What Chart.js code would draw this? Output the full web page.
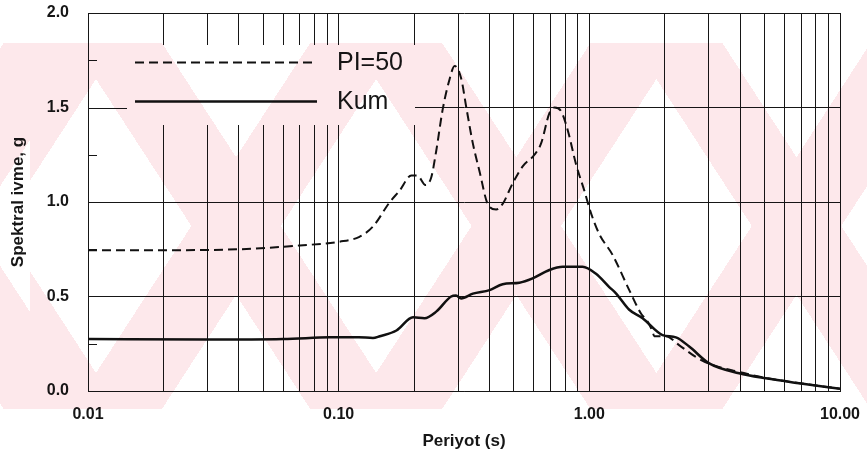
<!DOCTYPE html>
<html>
<head>
<meta charset="utf-8">
<title>Spektral ivme</title>
<script src="https://cdn.jsdelivr.net/npm/chart.js@4.4.1/dist/chart.umd.min.js"></script>
<style>
  body { margin: 0; background: #fff; }
  #wrap { position: relative; width: 867px; height: 458px; }
  #watermark {
    position: absolute; left: 0; top: 43px; width: 867px; height: 366px;
    pointer-events: none; mix-blend-mode: multiply;
    background-image:
      repeating-linear-gradient(57deg, #fde8eb 0 75px, transparent 75px 235px),
      repeating-linear-gradient(123deg, #fde8eb 0 75px, transparent 75px 235px);
    background-position: 30px 0, 30px 0;
  }
</style>
</head>
<body>
<div id="wrap"><canvas id="chart"></canvas><div id="watermark"></div></div>
<script>
// periods (s) and spectral acceleration (g)
const pi50Period = [0.01, 0.02, 0.04, 0.07, 0.101, 0.121, 0.137, 0.160, 0.175, 0.195, 0.206, 0.222, 0.234, 0.245, 0.260, 0.277, 0.290, 0.308, 0.323, 0.343, 0.365, 0.393, 0.425, 0.451, 0.495, 0.543, 0.604, 0.642, 0.693, 0.726, 0.772, 0.820, 0.885, 0.955, 1.016, 1.096, 1.238, 1.443, 1.607, 1.708, 1.788, 1.815, 2.02, 2.28, 2.66, 3.0, 3.7, 4.0, 5.0, 7.0, 10.0];
const pi50Accel = [0.745, 0.745, 0.75, 0.77, 0.79, 0.816, 0.87, 1.00, 1.06, 1.14, 1.14, 1.09, 1.13, 1.27, 1.49, 1.65, 1.72, 1.655, 1.50, 1.31, 1.16, 0.99, 0.96, 0.99, 1.10, 1.19, 1.25, 1.31, 1.47, 1.50, 1.48, 1.38, 1.20, 1.06, 0.94, 0.83, 0.72, 0.534, 0.41, 0.367, 0.314, 0.29, 0.29, 0.243, 0.18, 0.145, 0.11, 0.10, 0.07, 0.04, 0.012];

const kumPeriod = [0.01, 0.03, 0.06, 0.092, 0.12, 0.137, 0.146, 0.170, 0.198, 0.220, 0.245, 0.281, 0.294, 0.308, 0.343, 0.400, 0.451, 0.526, 0.594, 0.693, 0.783, 0.940, 1.063, 1.201, 1.277, 1.443, 1.631, 1.959, 2.215, 2.503, 3.008, 3.96, 5.06, 6.87, 10.0];
const kumAccel = [0.275, 0.272, 0.275, 0.284, 0.285, 0.28, 0.29, 0.32, 0.39, 0.385, 0.42, 0.50, 0.505, 0.49, 0.515, 0.534, 0.565, 0.573, 0.596, 0.64, 0.657, 0.657, 0.62, 0.55, 0.517, 0.43, 0.385, 0.296, 0.284, 0.235, 0.146, 0.094, 0.067, 0.041, 0.012];

const seriesLabels = [`PI=50`, `Kum`];
const periodTickLabels = [0.01, 0.1, 1, 10];
const gridDecades = [0.01, 0.1, 1];
const accelMinorTicks = [0.25, 0.75, 1.25, 1.75];

const FONT = `'Liberation Sans', Arial, sans-serif`;
const INK = `#161616`;

const periodGridTicks = [];
gridDecades.forEach(d => {
  for (let m = 1; m < 10; m++) periodGridTicks.push(m * d);
});
periodGridTicks.push(10);

const toPoints = (xs, ys) => xs.map((x, i) => ({x, y: ys[i]}));

// legend box drawn inside the plot, plus the short inward ticks on the left axis
const insetLegend = {
  id: `insetLegend`,
  afterDatasetsDraw(chart) {
    const {ctx, chartArea: area, scales: {y}} = chart;
    ctx.save();
    ctx.fillStyle = `#fff`;
    ctx.fillRect(area.left + 1, area.top + 32, 326, 80);
    chart.data.datasets.forEach((ds, i) => {
      const yy = area.top + 49.5 + i * 39;
      ctx.beginPath();
      ctx.setLineDash(ds.borderDash || []);
      ctx.lineWidth = ds.borderWidth;
      ctx.strokeStyle = ds.borderColor;
      ctx.moveTo(area.left + 47, yy);
      ctx.lineTo(area.left + 229, yy);
      ctx.stroke();
      ctx.setLineDash([]);
      ctx.fillStyle = INK;
      ctx.font = `25px ${FONT}`;
      ctx.textBaseline = `middle`;
      ctx.fillText(ds.label, area.left + 249, yy + 1);
    });
    ctx.strokeStyle = INK;
    ctx.lineWidth = 1;
    accelMinorTicks.forEach(v => {
      const py = Math.round(y.getPixelForValue(v)) + 0.5;
      ctx.beginPath();
      ctx.moveTo(area.left, py);
      ctx.lineTo(area.left + 9, py);
      ctx.stroke();
    });
    const p15 = Math.round(y.getPixelForValue(1.5)) + 0.5;
    ctx.beginPath();
    ctx.moveTo(area.left, p15);
    ctx.lineTo(area.left + 39, p15);
    ctx.stroke();
    ctx.restore();
  }
};

new Chart(document.getElementById(`chart`), {
  type: `line`,
  data: {
    datasets: [{
      label: seriesLabels[0],
      data: toPoints(pi50Period, pi50Accel),
      borderColor: `#111`,
      borderWidth: 2,
      borderDash: [9, 5],
      pointRadius: 0,
      cubicInterpolationMode: `monotone`
    }, {
      label: seriesLabels[1],
      data: toPoints(kumPeriod, kumAccel),
      borderColor: `#111`,
      borderWidth: 2.5,
      pointRadius: 0,
      cubicInterpolationMode: `monotone`
    }]
  },
  options: {
    responsive: true,
    maintainAspectRatio: false,
    animation: false,
    layout: {padding: {top: 13, right: 27, left: 0, bottom: 0}},
    plugins: {
      legend: {display: false},
      tooltip: {enabled: false}
    },
    scales: {
      x: {
        type: `logarithmic`,
        min: 0.01,
        max: 10,
        afterBuildTicks: axis => {
          axis.ticks = periodGridTicks.map(value => ({value}));
        },
        afterFit: s => {
          s.height = 67;
          s.paddingLeft = 0;
          s.paddingRight = 0;
        },
        grid: {color: INK, lineWidth: 1, drawTicks: false},
        border: {color: INK, width: 1},
        ticks: {
          autoSkip: false,
          maxRotation: 0,
          padding: 14,
          color: INK,
          font: {family: FONT, size: 16, weight: `bold`},
          callback: v => periodTickLabels.includes(v) ? v.toFixed(2) : ``
        },
        title: {
          display: true,
          text: `Periyot (s)`,
          color: INK,
          font: {family: FONT, size: 17, weight: `bold`},
          padding: {top: 0, bottom: 6}
        }
      },
      y: {
        min: 0,
        max: 2,
        afterFit: s => {
          s.width = 88;
          s.paddingTop = 0;
          s.paddingBottom = 0;
        },
        grid: {color: INK, lineWidth: 1, drawTicks: false},
        border: {color: INK, width: 1},
        ticks: {
          stepSize: 0.5,
          padding: 19,
          color: INK,
          font: {family: FONT, size: 16, weight: `bold`},
          callback: v => v.toFixed(1)
        },
        title: {
          display: true,
          text: `Spektral ivme, g`,
          color: INK,
          font: {family: FONT, size: 17, weight: `bold`},
          padding: {top: 8, bottom: 0}
        }
      }
    }
  },
  plugins: [insetLegend]
});
</script>
</body>
</html>
